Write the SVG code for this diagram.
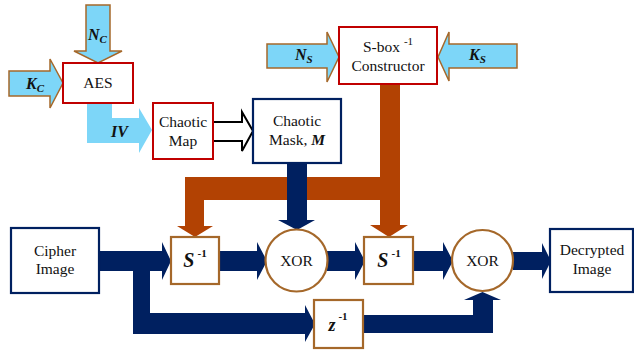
<svg xmlns="http://www.w3.org/2000/svg" width="634" height="351" viewBox="0 0 634 351" font-family="'Liberation Serif', 'DejaVu Serif', serif">
<style>
text{font-family:'Liberation Serif','DejaVu Serif',serif;font-size:15.5px;fill:#111;text-anchor:middle}
.lbl{font-weight:bold;font-style:italic;font-size:16px;text-anchor:start}
.sub{font-size:11px}
.sup{font-weight:bold;font-style:normal;font-size:11px}
.supn{font-weight:normal;font-style:normal;font-size:11px}
.red{fill:#fff;stroke:#c00000;stroke-width:2}
.navy{fill:#fff;stroke:#002060;stroke-width:2.2}
.brown{fill:#fff;stroke:#a5682a;stroke-width:2.2}
.key{fill:#7dd6f8;stroke:#a5682a;stroke-width:1.5}
.iv{fill:#7dd6f8}
.nv{fill:#002060}
.or{fill:#b24203}
</style>
<g id="connectors">
  <polygon class="key" points="86,5 110,5 110,51 122,51 98,63 74,51 86,51"/>
  <text class="lbl" x="88" y="40">N<tspan class="sub" dy="3">C</tspan></text>
  <polygon class="key" points="9,71 50,71 50,59 63,83 50,108 50,96 9,96"/>
  <text class="lbl" x="26" y="89">K<tspan class="sub" dy="3">C</tspan></text>
  <polygon class="iv" points="87,103 112,103 112,118 139,118 139,108 152,130 139,153 139,143 87,143"/>
  <text class="lbl" x="111" y="137">IV</text>
  <polygon class="key" points="267,44 327,44 327,32 339,57 327,82 327,68 267,68"/>
  <text class="lbl" x="295" y="60">N<tspan class="sub" dy="3">S</tspan></text>
  <polygon class="key" points="517,44 449,44 449,32 438,57 449,81 449,68 517,68"/>
  <text class="lbl" x="469" y="60">K<tspan class="sub" dy="3">S</tspan></text>
  <polygon fill="#fff" points="213,122 242,122 242,112 253,131 242,151 242,141 213,141"/>
  <polyline fill="none" stroke="#000" stroke-width="2" points="213,122 242,122 242,112 253,131 242,151 242,141 213,141"/>
  <polygon class="or" points="380,84 400,84 400,225 408,225 389,237 370,225 380,225 380,200 204,200 204,226 213,226 195,237 177,226 185,226 185,177 380,177"/>
  <polygon class="nv" points="287,163 307,163 307,220 315,220 297,230 278,220 287,220"/>
  <polygon class="nv" points="99,251 162,251 162,242 171,261 162,280 162,271 99,271"/>
  <polygon class="nv" points="133,271 150,271 150,313 305,313 305,305 315,324 305,342 305,334 133,334"/>
  <polygon class="nv" points="219,251 257,251 257,242 267,261 257,280 257,271 219,271"/>
  <polygon class="nv" points="327,251 355,251 355,242 365,261 355,280 355,271 327,271"/>
  <polygon class="nv" points="413,251 443,251 443,242 453,261 443,280 443,271 413,271"/>
  <polygon class="nv" points="513,252 542,252 542,243 551,261 542,279 542,270 513,270"/>
  <polygon class="nv" points="363,315 473,315 473,300 464,300 482.5,292 501,300 493,300 493,333 363,333"/>
</g>
<g id="aes">
  <rect class="red" x="63" y="63" width="70" height="40"/>
  <text x="98" y="88">AES</text>
</g>
<g id="chaotic-map">
  <rect class="red" x="153" y="103" width="60" height="56"/>
  <text x="183" y="127">Chaotic</text>
  <text x="183" y="146">Map</text>
</g>
<g id="chaotic-mask">
  <rect class="navy" x="253" y="99" width="88" height="64"/>
  <text x="297" y="126">Chaotic</text>
  <text x="297" y="145">Mask, <tspan font-weight="bold" font-style="italic">M</tspan></text>
</g>
<g id="sbox-constructor">
  <rect class="red" x="339" y="27" width="98" height="57"/>
  <text x="388" y="52">S-box <tspan class="supn" dy="-7">-1</tspan></text>
  <text x="388" y="71">Constructor</text>
</g>
<g id="cipher-image">
  <rect class="navy" x="11" y="228" width="88" height="65"/>
  <text x="55" y="256">Cipher</text>
  <text x="55" y="274">Image</text>
</g>
<g id="sinv1">
  <rect class="brown" x="171" y="237" width="48" height="47"/>
  <text x="195" y="267"><tspan font-weight="bold" font-style="italic" font-size="20">S</tspan><tspan class="sup" dx="3" dy="-10">-1</tspan></text>
</g>
<g id="xor1">
  <circle class="brown" cx="296.5" cy="260.5" r="31"/>
  <text x="296.5" y="266">XOR</text>
</g>
<g id="sinv2">
  <rect class="brown" x="364" y="237" width="49" height="47"/>
  <text x="389" y="267"><tspan font-weight="bold" font-style="italic" font-size="20">S</tspan><tspan class="sup" dx="3" dy="-10">-1</tspan></text>
</g>
<g id="xor2">
  <circle class="brown" cx="482.5" cy="260.5" r="30.5"/>
  <text x="482.5" y="266">XOR</text>
</g>
<g id="decrypted-image">
  <rect class="navy" x="550" y="229" width="83" height="63"/>
  <text x="592" y="255">Decrypted</text>
  <text x="592" y="274">Image</text>
</g>
<g id="zinv">
  <rect class="brown" x="314" y="300" width="49" height="48"/>
  <text x="338" y="331"><tspan font-weight="bold" font-style="italic" font-size="18">z</tspan><tspan class="sup" font-size="12" dx="3" dy="-11">-1</tspan></text>
</g>
</svg>
